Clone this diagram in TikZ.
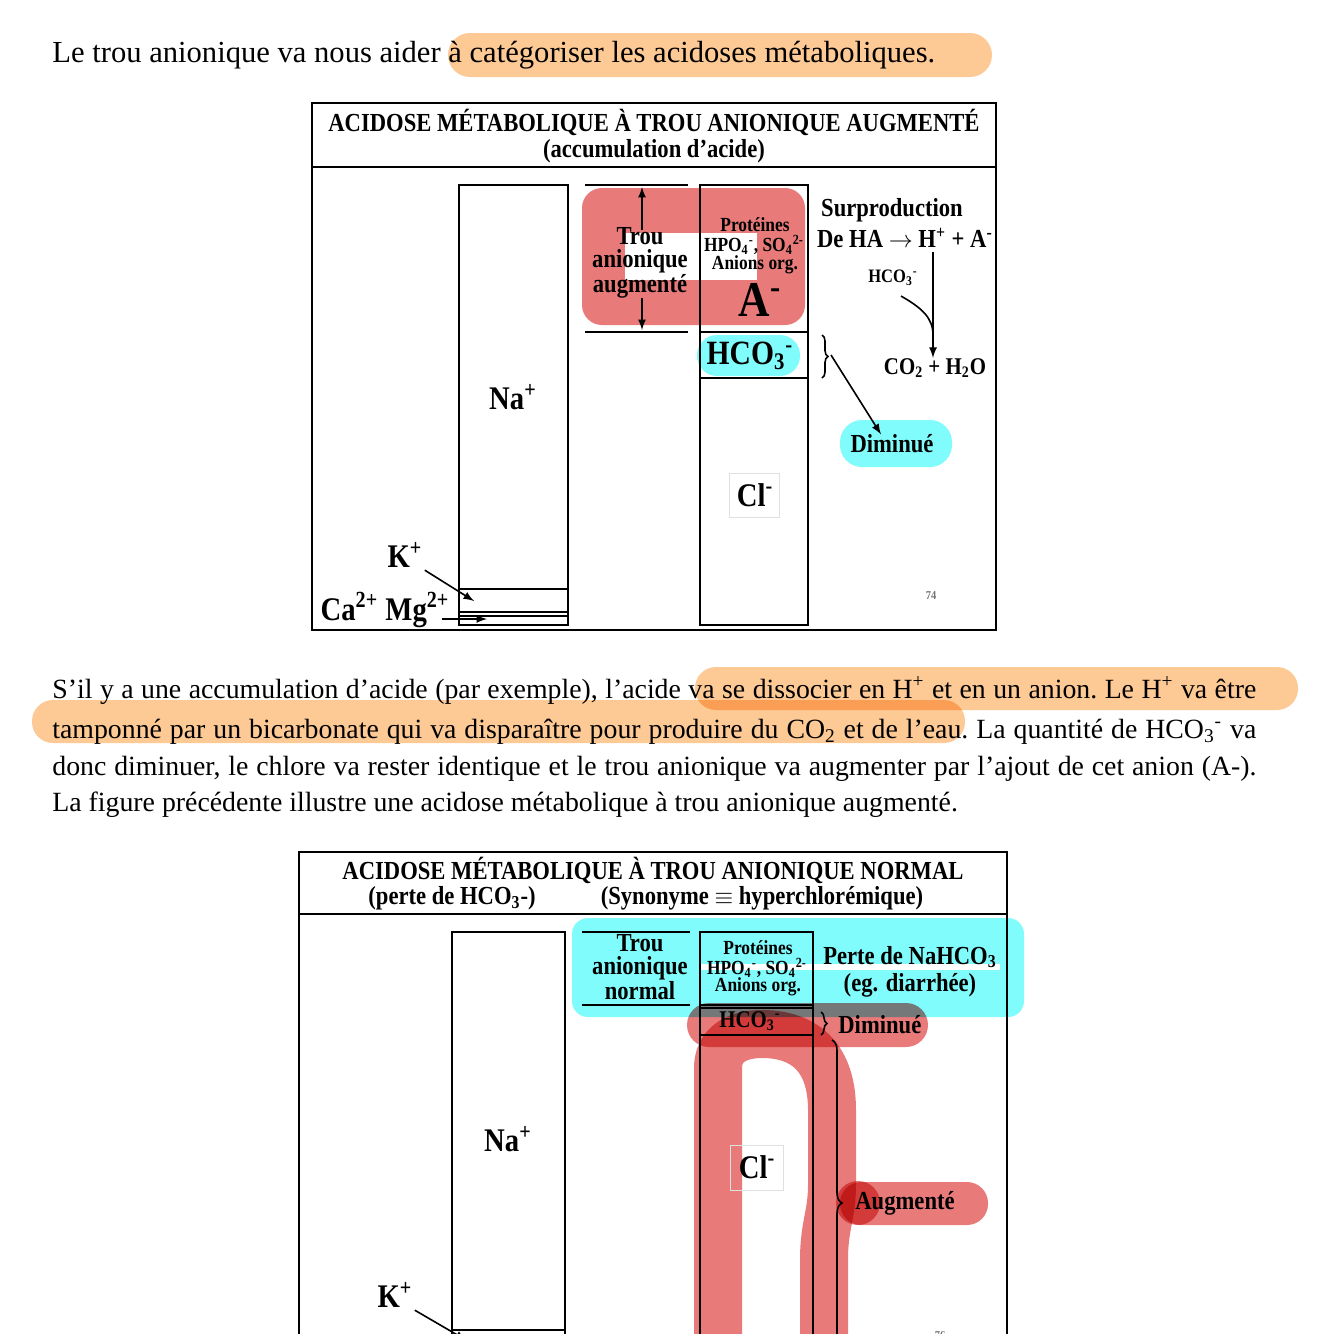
\documentclass[tikz,border=0pt]{standalone}
\usepackage{fontspec}
\setmainfont{Liberation Serif}
\newfontfamily\figfont[FakeStretch=0.87]{Liberation Serif}
\usetikzlibrary{positioning, decorations.pathreplacing}
\definecolor{hlorange}{RGB}{253,201,148}
\definecolor{hlred}{RGB}{232,122,122}
\definecolor{hlcyan}{RGB}{128,252,252}

\tikzset{
  body/.style={anchor=base west, inner sep=0pt, font=\frenchspacing\fontsize{13.9}{16}\selectfont},
  fig/.style={inner sep=0pt, align=center, font=\figfont\bfseries\fontsize{13}{11.5}\selectfont},
  small/.style={fig, font=\figfont\bfseries\fontsize{10}{9.5}\selectfont},
  ion/.style={fig, font=\figfont\bfseries\fontsize{16.5}{18}\selectfont},
  frame/.style={line width=1.4pt},
  col/.style={line width=1.1pt},
  ptr/.style={-latex, line width=0.8pt},
  clbox/.style={draw=black!12, line width=0.4pt}
}
\newcommand{\ionsub}[1]{\textsubscript{#1}}
\newcommand{\ionsup}[1]{\textsuperscript{#1}}

\begin{document}
\begin{tikzpicture}[x=0.5pt, y=-0.5pt]
\useasboundingbox (0,0) rectangle (1334,1334);
\clip (0,0) rectangle (1334,1334);
\fill[white] (0,0) rectangle (1334,1334);

% highlights
\begin{scope}[blend mode=multiply]
  \fill[hlorange, rounded corners=11pt] (448,33) rectangle (992,77);
  \fill[hlorange, rounded corners=10.5pt] (695,667) rectangle (1298,710);
  \fill[hlorange, rounded corners=10.5pt] (32,700) rectangle (965,743);
  \fill[hlred, rounded corners=10pt] (582,188) rectangle (805,325);
  \fill[hlcyan, rounded corners=10pt] (697,335) rectangle (800,376);
  \fill[hlcyan, rounded corners=11pt] (840,420) rectangle (952,467);
  \fill[hlcyan, rounded corners=8pt] (572,918) rectangle (1024,1017);
  \fill[hlred, rounded corners=11pt] (687,1003) rectangle (928,1047);
  \fill[hlred, rounded corners=10.5pt] (840,1182) rectangle (988,1225);
  \fill[hlred] (858,1203) circle (11pt);
  \draw[hlred, line width=24pt, line cap=round, line join=round]
    (718,1360) -- (718,1068) .. controls (718,1046) and (735,1034) .. (762,1034)
    .. controls (805,1034) and (832,1058) .. (832,1110) -- (832,1185)
    .. controls (832,1215) and (824,1225) .. (824,1260) -- (824,1360);
\end{scope}
\fill[white] (625,233) rectangle (757,280);
\fill[white] (700,964) rectangle (1000,970);

% texte
\node[body, font=\fontsize{15.3}{17}\selectfont] (intro) at (52,62) {Le trou anionique va nous aider à catégoriser les acidoses métaboliques.};
\node[body] (p1) at (52,698) {\makebox[602pt][s]{S’il y a une accumulation d’acide (par exemple), l’acide va se dissocier en H\ionsup{+} et en un anion. Le H\ionsup{+} va être}};
\node[body] (p2) at (52,738) {\makebox[602pt][s]{tamponné par un bicarbonate qui va disparaître pour produire du CO\ionsub{2} et de l’eau. La quantité de HCO\ionsub{3}\ionsup{-} va}};
\node[body] (p3) at (52,775) {\makebox[602pt][s]{donc diminuer, le chlore va rester identique et le trou anionique va augmenter par l’ajout de cet anion (A-).}};
\node[body] (p4) at (52,811) {La figure précédente illustre une acidose métabolique à trou anionique augmenté.};

% figure 1
\draw[frame] (312,103) rectangle (996,630);
\draw[frame] (312,167) -- (996,167);
\node[fig] (titre1) at (654,122) {ACIDOSE MÉTABOLIQUE À TROU ANIONIQUE AUGMENTÉ};
\node[fig] (sous1) at (654,151) {(accumulation d’acide)};

\draw[col] (459,185) rectangle (568,625);
\draw[col] (459,589) -- (568,589) (459,612) -- (568,612) (459,616) -- (568,616);
\node[ion] (na1) at (513,397) {Na\ionsup{+}};
\node[ion] (k1) at (405,555) {K\ionsup{+}};
\node[ion] (ca1) at (385,610) {Ca\ionsup{2+} Mg\ionsup{2+}};
\coordinate (kend1) at (474,601);
\coordinate (caend1) at (487,619);
\draw[ptr] (k1.south east) ++(2,2) -- (kend1);
\draw[ptr] (442,619) -- (caend1);

\draw[col] (585,185) -- (688,185) (585,332) -- (688,332);
\node[fig] (trou1) at (640,263) {Trou\\anionique\\augmenté};
\coordinate (haut1) at (642,187);
\coordinate (bas1) at (642,330);
\draw[ptr] (642,230) -- (haut1);
\draw[ptr] (642,298) -- (bas1);

\draw[col] (700,185) rectangle (808,625);
\draw[col] (700,332) -- (808,332) (700,378) -- (808,378);
\node[small] (prot1) at (755,225) {Protéines};
\node[small] (hpo1) at (754,245) {HPO\ionsub{4}\ionsup{-}, SO\ionsub{4}\ionsup{2-}};
\node[small] (org1) at (755,265) {Anions org.};
\node[fig, font=\figfont\bfseries\fontsize{25}{25}\selectfont] (a1) at (760,300) {A\ionsup{-}};
\node[fig, font=\figfont\bfseries\fontsize{17}{17}\selectfont] (hco1) at (750,356) {HCO\ionsub{3}\ionsup{-}};
\draw[clbox] (729,473) rectangle (779,517);
\node[ion] (cl1) at (755,495) {Cl\ionsup{-}};

\node[fig] (surp) at (892,210) {Surproduction};
\node[fig] (dissoc) at (905,238) {De HA $\rightarrow$ H\ionsup{+} + A\ionsup{-}};
\node[small, font=\figfont\bfseries\fontsize{9.5}{9.5}\selectfont] (hcob) at (893,278) {HCO\ionsub{3}\ionsup{-}};
\node[fig, font=\figfont\bfseries\fontsize{12}{12}\selectfont] (co2) at (935,368) {CO\ionsub{2} + H\ionsub{2}O};
\coordinate (split) at (933,252);
\draw[ptr] (split) -- (co2.north -| split);
\draw[line width=0.8pt] (hcob.south) ++(8,10) .. controls (922,308) and (933,318) .. (933,335);
\draw[line width=0.8pt, decorate, decoration={brace, amplitude=3pt}] (822,335) -- (822,378);
\node[fig] (dim1) at (892,444) {Diminué};
\draw[ptr] (831,355) -- (dim1.north -| 881,0);
\node[fig, font=\figfont\bfseries\fontsize{6}{6}\selectfont, text=black!55] (pg1) at (931,596) {74};

% figure 2
\draw[frame] (299,852) rectangle (1007,1400);
\draw[frame] (299,914) -- (1007,914);
\node[fig] (titre2) at (653,870) {ACIDOSE MÉTABOLIQUE À TROU ANIONIQUE NORMAL};
\node[fig] (sous2a) at (452,898) {(perte de HCO\ionsub{3}-)};
\node[fig] (sous2b) at (762,898) {(Synonyme $\equiv$ hyperchlorémique)};

\draw[col] (452,932) rectangle (565,1400);
\draw[col] (452,1330) -- (565,1330);
\node[ion] (na2) at (508,1139) {Na\ionsup{+}};
\node[ion] (k2) at (395,1295) {K\ionsup{+}};
\coordinate (kend2) at (466,1340);
\draw[ptr] (k2.south east) ++(2,2) -- (kend2);

\draw[col] (582,932) -- (690,932) (582,1005) -- (690,1005);
\node[fig] (trou2) at (640,967) {Trou\\anionique\\normal};

\draw[col] (700,932) rectangle (813,1400);
\draw[col] (700,1005) -- (813,1005) (700,1008) -- (813,1008) (700,1035) -- (813,1035);
\node[small] (prot2) at (758,948) {Protéines};
\node[small] (hpo2) at (757,968) {HPO\ionsub{4}\ionsup{-}, SO\ionsub{4}\ionsup{2-}};
\node[small] (org2) at (758,987) {Anions org.};
\node[fig, font=\figfont\bfseries\fontsize{12}{12}\selectfont] (hco2) at (750,1021) {HCO\ionsub{3}\ionsup{-}};
\draw[clbox] (730,1145) rectangle (783,1190);
\node[ion] (cl2) at (757,1167) {Cl\ionsup{-}};

\node[fig] (perte) at (910,957) {Perte de NaHCO\ionsub{3}};
\node[fig] (diar) at (910,985) {(eg. diarrhée)};
\draw[line width=0.8pt, decorate, decoration={brace, amplitude=3pt}] (821,1012) -- (821,1035);
\node[fig, anchor=west] (dim2) at (838,1025) {Diminué};
\draw[line width=0.8pt, decorate, decoration={brace, amplitude=5pt}] (832,1040) -- (832,1366);
\node[fig, anchor=west] (aug2) at (855,1203) {Augmenté};
\node[fig, font=\figfont\bfseries\fontsize{6}{6}\selectfont, text=black!55] (pg2) at (940,1336) {76};
\end{tikzpicture}
\end{document}
